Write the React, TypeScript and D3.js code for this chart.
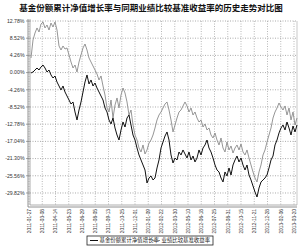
import React from "react";
import * as d3 from "d3";

const title = "基金份额累计净值增长率与同期业绩比较基准收益率的历史走势对比图";
const seriesNames = ["基金份额累计净值增长率", "业绩比较基准收益率"];
const yTicks = [12.78, 8.52, 4.26, 0.0, -4.26, -8.52, -12.78, -17.04, -21.3, -25.56, -29.82];
const dateLabels = [
  "2011-01-27", "2011-03-08", "2011-04-14", "2011-05-23", "2011-06-29", "2011-08-05",
  "2011-09-13", "2011-10-25", "2011-12-01", "2012-01-09", "2012-02-22", "2012-03-30",
  "2012-05-10", "2012-06-18", "2012-07-25", "2012-08-31", "2012-10-15", "2012-11-21",
  "2012-12-28", "2013-02-06", "2013-03-20",
];

const fundValues = [
  -0.10, 0.15, 0.64, 1.14, 0.64, 1.39, 1.88, 1.14, 0.15, 0.64, -0.59, -1.34, -0.84, -2.33,
  -3.32, -4.31, -3.32, -4.81, -5.80, -6.79, -7.78, -7.28, -9.76, -11.74, -9.27, -7.28, -4.81,
  -2.33, -0.59, -2.82, -1.83, -3.32, -2.58, -3.82, -4.81, -5.80, -6.79, -8.77, -9.76, -11.74,
  -12.73, -11.25, -13.72, -15.46, -16.70, -14.22, -12.24, -13.48, -11.25, -10.50, -12.98,
  -15.46, -16.70, -18.68, -20.41, -21.65, -22.89, -24.13, -27.35, -26.11, -25.61, -26.60,
  -26.11, -23.63, -21.65, -18.68, -17.19, -15.71, -14.71, -16.70, -20.41, -22.39, -21.15,
  -21.65, -19.67, -20.41, -19.17, -20.16, -21.15, -19.67, -21.65, -20.66, -22.14, -21.15,
  -19.17, -20.41, -18.68, -17.93, -16.70, -18.68, -19.67, -21.15, -22.89, -24.13, -24.62,
  -26.11, -27.10, -24.62, -25.61, -23.63, -25.37, -22.89, -21.65, -20.66, -22.14, -21.15,
  -22.89, -24.13, -22.89, -25.37, -26.60, -28.09, -29.58, -30.82, -28.59, -27.10, -26.60,
  -26.11, -25.37, -23.63, -21.65, -20.66, -17.93, -16.70, -14.96, -13.72, -12.98, -14.22,
  -12.24, -13.72, -15.46, -13.23, -14.71, -12.98,
];

const benchValues = [
  3.62, 8.07, 9.81, 11.05, 10.06, 12.04, 12.53, 11.05, 11.79, 10.55, 12.28, 11.29, 12.53,
  10.55, 6.59, 5.60, 6.59, 5.84, 6.10, 4.36, 2.62, 1.14, 1.88, 0.15, 2.62, 4.36, 6.10, 7.08,
  5.60, 3.62, 2.62, 1.63, 0.64, -0.35, -1.83, -0.84, -3.32, -5.55, -8.77, -9.76, -6.79,
  -11.25, -8.03, -6.29, -8.77, -5.55, -3.82, -5.05, -7.28, -10.50, -9.27, -12.98, -15.46,
  -16.70, -18.68, -19.67, -17.93, -20.16, -19.17, -17.44, -16.70, -15.46, -13.72, -11.74,
  -10.50, -9.76, -8.77, -7.78, -7.28, -9.27, -11.74, -14.71, -12.98, -11.25, -9.76, -9.27,
  -8.27, -7.28, -8.27, -9.76, -8.77, -10.50, -9.76, -11.25, -12.24, -11.74, -13.48, -12.73,
  -14.22, -13.72, -15.46, -16.20, -14.96, -16.70, -17.93, -16.20, -18.68, -19.67, -17.19,
  -19.17, -18.18, -19.92, -18.68, -17.93, -19.17, -17.69, -19.67, -20.41, -19.17, -21.15,
  -22.89, -24.62, -26.11, -27.10, -24.62, -22.89, -20.41, -19.17, -17.19, -15.46, -13.72,
  -11.25, -9.76, -8.77, -7.53, -8.52, -9.27, -8.27, -10.50, -8.77, -11.74, -9.76, -12.98,
  -11.25,
];

const W = 300;
const H = 248;
const left = 30;
const right = 297;
const top = 21;
const bottom = 205;

export default function App() {
  const y = d3.scaleLinear().domain([-32.8, 12.78]).range([bottom, top]);
  const xF = d3.scaleLinear().domain([0, fundValues.length - 1]).range([31, 297]);
  const xB = d3.scaleLinear().domain([0, benchValues.length - 1]).range([31, 297]);
  const xl = d3.scalePoint().domain(dateLabels).range([29, 294]);
  const lineF = d3.line<number>().x((_, i) => xF(i)).y((d) => y(d));
  const lineB = d3.line<number>().x((_, i) => xB(i)).y((d) => y(d));
  const font = "'Liberation Sans', Arial, sans-serif";

  return (
    <svg width={W} height={H} style={{ position: "absolute", left: 0, top: 0, background: "#fff" }}>
      <text x={151} y={10.5} textAnchor="middle" fontSize={8.5} fontWeight="bold"
        fontFamily="'Noto Sans CJK SC', sans-serif" fill="#111">{title}</text>
      {yTicks.map((t) => (
        <g key={"h" + t}>
          <line x1={left} x2={right} y1={y(t)} y2={y(t)} stroke="#888" strokeWidth={0.7} strokeDasharray="1,1.5" />
          <line x1={26} x2={left} y1={y(t)} y2={y(t)} stroke="#666" strokeWidth={0.6} />
          <text x={24.5} y={y(t) + 1.8} textAnchor="end" fontSize={5.2} fontFamily={font} fill="#333">
            {t.toFixed(2) + "%"}
          </text>
        </g>
      ))}
      {dateLabels.map((d) => (
        <g key={"v" + d}>
          <line x1={xl(d)} x2={xl(d)} y1={top} y2={bottom} stroke="#999" strokeWidth={0.7} strokeDasharray="1,1.5" />
          <text transform={`translate(${(xl(d) as number) + 1.8},209) rotate(-90)`} textAnchor="end"
            fontSize={4.8} fontFamily={font} fill="#333">{d}</text>
        </g>
      ))}
      <line x1={right} x2={right} y1={top} y2={bottom} stroke="#bbb" strokeWidth={0.8} />
      <line x1={28} x2={28} y1={top - 2} y2={bottom + 2} stroke="#777" strokeWidth={0.8} />
      <line x1={30} x2={30} y1={top - 2} y2={bottom} stroke="#999" strokeWidth={0.8} />
      <line x1={28} x2={right} y1={bottom + 2} y2={bottom + 2} stroke="#777" strokeWidth={0.8} />
      <line x1={30} x2={right} y1={bottom} y2={bottom} stroke="#999" strokeWidth={0.8} />
      <path d={lineB(benchValues) || ""} fill="none" stroke="#8a8a8a" strokeWidth={0.9} />
      <path d={lineF(fundValues) || ""} fill="none" stroke="#111" strokeWidth={1} />
      <rect x={87} y={236} width={126} height={9} fill="#fff" stroke="#222" strokeWidth={0.8} />
      <line x1={90} x2={98} y1={240.5} y2={240.5} stroke="#111" strokeWidth={1} />
      <text x={99.5} y={242.3} fontSize={5.4} fontFamily="'Noto Sans CJK SC', sans-serif" fill="#222">{seriesNames[0]}</text>
      <line x1={152} x2={160} y1={240.5} y2={240.5} stroke="#8a8a8a" strokeWidth={1} />
      <text x={161.5} y={242.3} fontSize={5.4} fontFamily="'Noto Sans CJK SC', sans-serif" fill="#222">{seriesNames[1]}</text>
    </svg>
  );
}
